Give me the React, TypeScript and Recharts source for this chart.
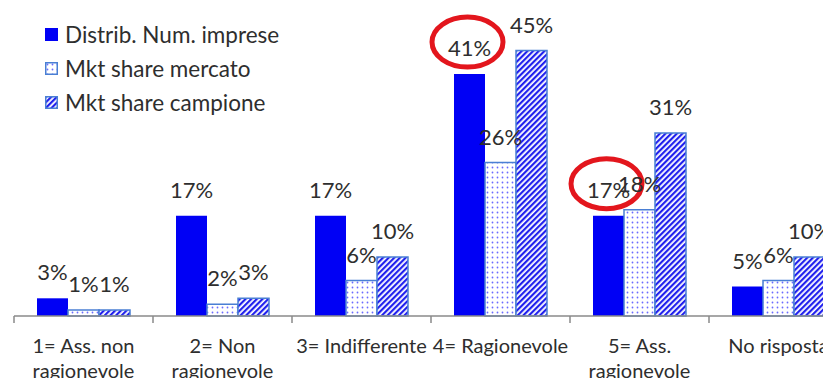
import { Bar, BarChart, LabelList, Legend, XAxis, YAxis } from 'recharts';

const CATEGORIES = [
  '1= Ass. non ragionevole',
  '2= Non ragionevole',
  '3= Indifferente',
  '4= Ragionevole',
  '5= Ass. ragionevole',
  'No risposta',
];

// righe delle etichette asse (a capo come nel grafico Excel)
const TICK_LINES: Record<string, string[]> = {
  '1= Ass. non ragionevole': ['1= Ass. non', 'ragionevole'],
  '2= Non ragionevole': ['2= Non', 'ragionevole'],
  '3= Indifferente': ['3= Indifferente'],
  '4= Ragionevole': ['4= Ragionevole'],
  '5= Ass. ragionevole': ['5= Ass.', 'ragionevole'],
  'No risposta': ['No risposta'],
};

const DISTRIB = [3, 17, 17, 41, 17, 5];
const MERCATO = [1, 2, 6, 26, 18, 6];
const CAMPIONE = [1, 3, 10, 45, 31, 10];

// valori cerchiati in rosso
const HIGHLIGHTED = ['4= Ragionevole', '5= Ass. ragionevole'];

const data = CATEGORIES.map((name, i) => ({
  name,
  distrib: DISTRIB[i],
  mercato: MERCATO[i],
  campione: CAMPIONE[i],
}));

const FONT = 'Lato, "Open Sans", sans-serif';
const BLUE = '#0000f5';
const EDGE = '#4a7fd4';
const TEXT = '#2e2e2e';

const W = 858;
const H = 386;
const M = { top: 21, right: 10, left: 14, bottom: 0 };
const BAND = (W - M.left - M.right) / CATEGORIES.length;

const pct = (v: number) => `${v}%`;

function makeLabel(withCircle: boolean) {
  return (props: any) => {
    const { x, y, width, value, index } = props;
    const cx = Number(x) + Number(width) / 2;
    const base = Number(y) - 18;
    const circled = withCircle && HIGHLIGHTED.includes(CATEGORIES[index]);
    return (
      <g>
        <text x={cx} y={base} textAnchor="middle" fontSize={22} fontFamily={FONT} fill={TEXT}>
          {pct(value)}
        </text>
        {circled && (
          <ellipse
            cx={cx - 2}
            cy={base - 14}
            rx={35.5}
            ry={25}
            fill="none"
            stroke="#e3161d"
            strokeWidth={5}
          />
        )}
      </g>
    );
  };
}

function CategoryTick(props: any) {
  const { x, y, payload } = props;
  const lines = TICK_LINES[payload.value] ?? [payload.value];
  const left = x - BAND / 2;
  return (
    <g>
      <line x1={left} x2={left} y1={y} y2={y + 7} stroke="#8a8a8a" strokeWidth={1.5} />
      <text textAnchor="middle" fontSize={20} fontFamily={FONT} fill={TEXT}>
        {lines.map((l, i) => (
          <tspan key={i} x={x} y={y + 37 + i * 25}>
            {l}
          </tspan>
        ))}
      </text>
    </g>
  );
}

const LEGEND_ITEMS = [
  { label: 'Distrib. Num. imprese', kind: 'solid' },
  { label: 'Mkt share mercato', kind: 'dots' },
  { label: 'Mkt share campione', kind: 'hatch' },
];

function LegendIcon({ kind }: { kind: string }) {
  if (kind === 'solid') {
    return (
      <svg width={13} height={13}>
        <rect x={0} y={0} width={13} height={13} fill={BLUE} />
      </svg>
    );
  }
  return (
    <svg width={13} height={13}>
      <rect
        x={0.75}
        y={0.75}
        width={11.5}
        height={11.5}
        fill={kind === 'dots' ? 'url(#dots)' : 'url(#hatch)'}
        stroke={EDGE}
        strokeWidth={1.5}
      />
    </svg>
  );
}

function LegendBox() {
  return (
    <div style={{ fontFamily: FONT, fontSize: 22.5, color: TEXT }}>
      {LEGEND_ITEMS.map((it) => (
        <div
          key={it.label}
          style={{ display: 'flex', alignItems: 'center', height: 34, whiteSpace: 'nowrap' }}
        >
          <LegendIcon kind={it.kind} />
          <span style={{ marginLeft: 7 }}>{it.label}</span>
        </div>
      ))}
    </div>
  );
}

export default function App() {
  return (
    <div
      style={{
        margin: -8,
        width: 831,
        height: H,
        overflow: 'hidden',
        position: 'relative',
        background: '#fff',
      }}
    >
      <BarChart width={W} height={H} data={data} margin={M} barGap={0} barSize={31}>
        <defs>
          <pattern id="dots" width={5} height={5} patternUnits="userSpaceOnUse">
            <rect width={5} height={5} fill="#fff" />
            <circle cx={2.5} cy={2.5} r={0.9} fill="#6b6bff" />
          </pattern>
          <pattern
            id="hatch"
            width={4}
            height={4}
            patternUnits="userSpaceOnUse"
            patternTransform="rotate(45)"
          >
            <rect width={4} height={4} fill="#fff" />
            <rect width={2.2} height={4} fill="#2020ee" />
          </pattern>
        </defs>
        <XAxis
          dataKey="name"
          interval={0}
          tickLine={false}
          tickSize={0}
          tickMargin={0}
          height={70}
          axisLine={{ stroke: '#8a8a8a', strokeWidth: 1.5 }}
          tick={<CategoryTick />}
        />
        <YAxis hide domain={[0, 50]} />
        <Legend
          layout="horizontal"
          verticalAlign="middle"
          align="center"
          wrapperStyle={{ top: 17, left: 45, width: 'auto' }}
          content={() => <LegendBox />}
        />
        <Bar dataKey="distrib" name="Distrib. Num. imprese" fill={BLUE} isAnimationActive={false}>
          <LabelList dataKey="distrib" content={makeLabel(true)} />
        </Bar>
        <Bar
          dataKey="mercato"
          name="Mkt share mercato"
          fill="url(#dots)"
          stroke={EDGE}
          strokeWidth={1.5}
          isAnimationActive={false}
        >
          <LabelList dataKey="mercato" content={makeLabel(false)} />
        </Bar>
        <Bar
          dataKey="campione"
          name="Mkt share campione"
          fill="url(#hatch)"
          stroke={EDGE}
          strokeWidth={1.5}
          isAnimationActive={false}
        >
          <LabelList dataKey="campione" content={makeLabel(false)} />
        </Bar>
      </BarChart>
    </div>
  );
}
